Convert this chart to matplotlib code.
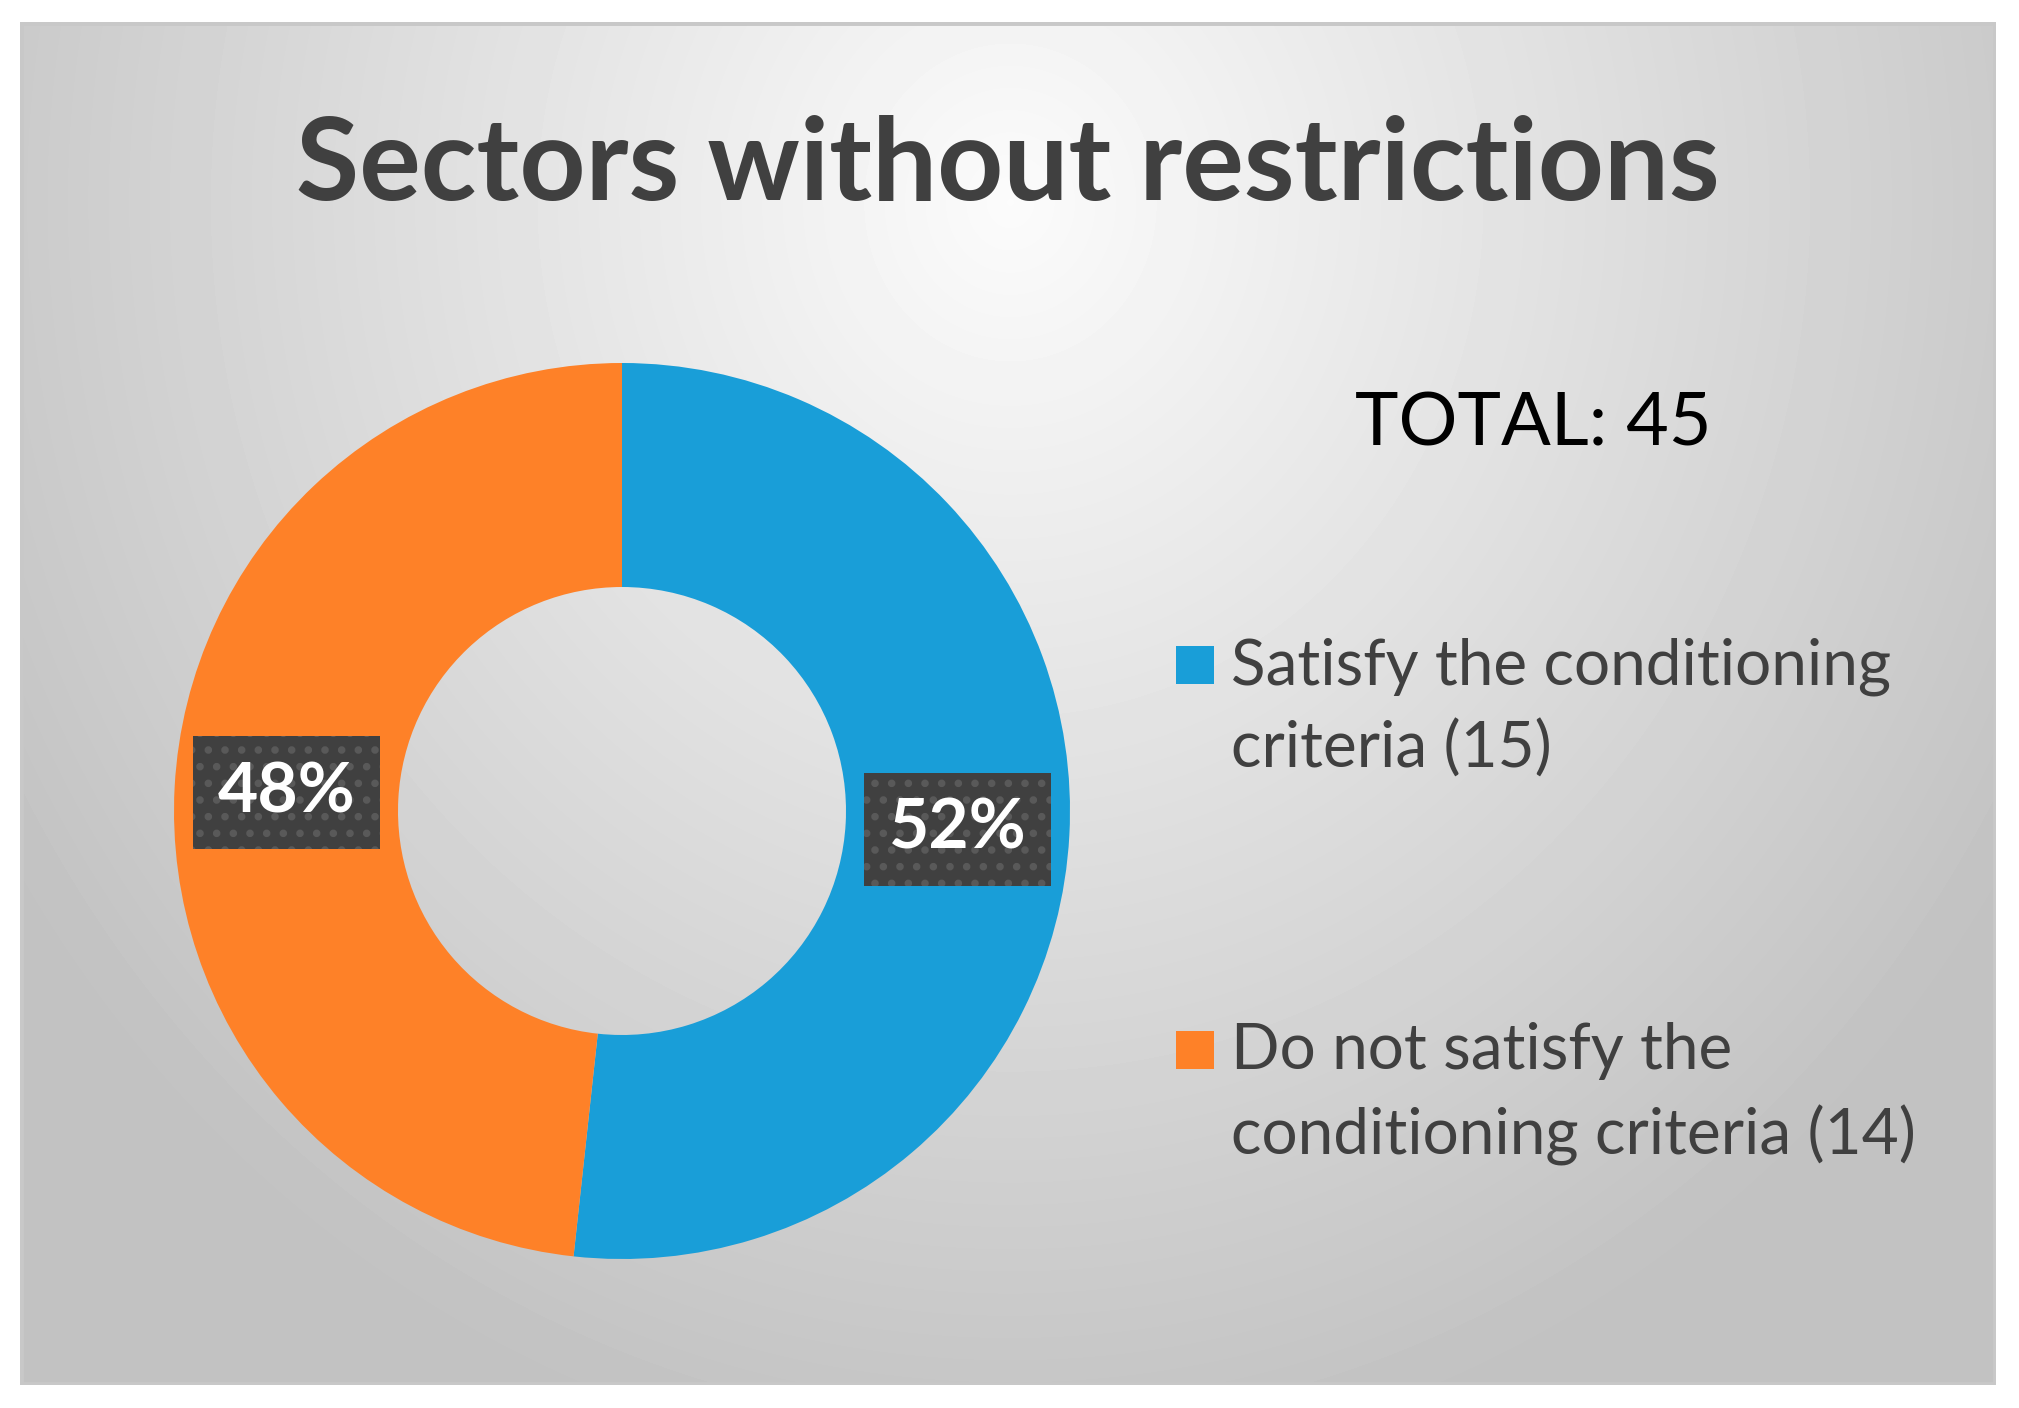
import numpy as np
import matplotlib.pyplot as plt
from matplotlib.patches import Rectangle

# data
categories = ["Satisfy the conditioning\ncriteria (15)",
              "Do not satisfy the\nconditioning criteria (14)"]
counts = [15, 14]
colors = ["#199ED8", "#FE8128"]
total = 45
title = "Sectors without restrictions"

plt.rcParams["hatch.linewidth"] = 3.0

W, H = 2019, 1408
fig = plt.figure(figsize=(W / 100, H / 100), dpi=100)
fig.patch.set_facecolor("white")

# grey panel with a radial gradient (light at top centre)
bg_ax = fig.add_axes([20 / W, 1 - 1385 / H, 1976 / W, 1363 / H])
bg_ax.set_axis_off()
yy, xx = np.mgrid[0:1363, 0:1976]
d = np.sqrt(((xx - 990) / 1150.0) ** 2 + ((yy - 180) / 1250.0) ** 2)
shade = np.clip(0.985 - 0.22 * d, 0.76, 1.0)
bg_ax.imshow(shade, cmap="gray", vmin=0, vmax=1, aspect="auto",
             interpolation="bilinear")
bg_ax.add_patch(Rectangle((0, 0), 1, 1, transform=bg_ax.transAxes,
                          fill=False, edgecolor="#c8c8c8", linewidth=5))

# donut
cx, cy, r = 622, 811, 448
ax = fig.add_axes([(cx - r) / W, 1 - (cy + r) / H, 2 * r / W, 2 * r / H])
ax.set_axis_off()
wedges, texts, autotexts = ax.pie(
    counts, colors=colors, startangle=90, counterclock=False,
    autopct="%.0f%%", pctdistance=0.75,
    wedgeprops=dict(width=0.5, edgecolor="none"),
    textprops=dict(color="white", fontsize=50, fontweight="bold",
                   family="Lato"))
ax.set_xlim(-1, 1)
ax.set_ylim(-1, 1)
for t in autotexts:
    t.set_bbox(dict(boxstyle="square,pad=0.36", facecolor="#404040",
                    edgecolor="#595959", linewidth=0, hatch="."))

# title
fig.text(1008 / W, 1 - 167 / H, title, ha="center", va="center",
         fontsize=83, fontweight="bold", color="#404040", family="Lato")

# total
fig.text(1533 / W, 1 - 425 / H, "TOTAL: %d" % total, ha="center",
         va="center", fontsize=53, color="black", family="Lato")

# legend drawn by hand so the square sits on the first line
legend_y = [665, 1050]
for lab, col, y in zip(categories, colors, legend_y):
    fig.patches.append(Rectangle((1176 / W, 1 - (y + 19) / H), 38 / W, 38 / H,
                                 transform=fig.transFigure, facecolor=col,
                                 edgecolor="none"))
    fig.text(1231 / W, 1 - (y - 28) / H, lab, ha="left", va="top",
             fontsize=46, color="#404040", family="Lato", linespacing=1.5)

fig.savefig("out.png", dpi=100)
